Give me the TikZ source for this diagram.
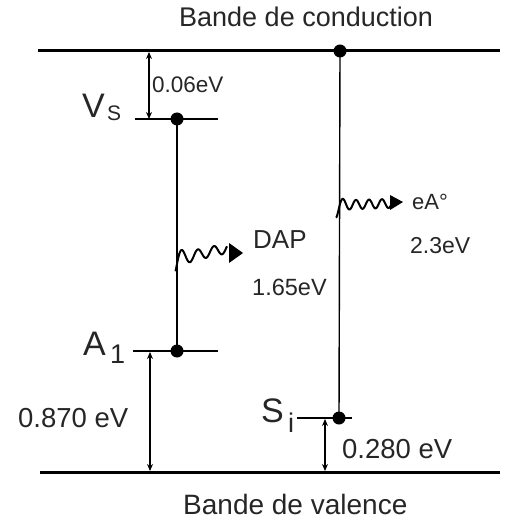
\documentclass[tikz,border=0pt]{standalone}
\usepackage{fontspec}
\setmainfont{Liberation Sans}
\usetikzlibrary{arrows.meta}
\newcommand{\fs}[1]{\fontsize{#1}{#1}\selectfont}
\begin{document}
\begin{tikzpicture}[x=1pt,y=-1pt,
  lbl/.style={inner sep=0pt,anchor=base west,text=black!85},
  band/.style={line width=3pt},
  level/.style={line width=1.4pt},
  dimarrow/.style={line width=1.1pt,{Stealth[length=7pt,width=6pt]}-{Stealth[length=7pt,width=6pt]}},
  dotc/.style={circle,fill=black,inner sep=0pt,minimum size=13pt},
  wave/.style={line width=2pt,line join=round}]
\useasboundingbox (0,0) rectangle (507,526);
% bands
\coordinate (cbL) at (38,51); \coordinate (cbR) at (500,51);
\coordinate (vbL) at (40,472); \coordinate (vbR) at (500,472);
\draw[band] (cbL) -- (cbR);
\draw[band] (vbL) -- (vbR);
\node[lbl,font=\fs{27}] (cbt) at (179,27) {Bande de conduction};
\node[lbl,font=\fs{28}] (vbt) at (183,514) {Bande de valence};
% levels
\coordinate (vsL) at (135,119); \coordinate (vsR) at (218,119);
\coordinate (a1L) at (133,351); \coordinate (a1R) at (218,351);
\coordinate (siL) at (297,418); \coordinate (siR) at (352,418);
\draw[level] (vsL) -- (vsR);
\draw[level] (a1L) -- (a1R);
\draw[level] (siL) -- (siR);
% dots
\node[dotc] (dvs) at (177,119) {};
\node[dotc] (da1) at (177,351) {};
\node[dotc] (dcb) at (340,51) {};
\node[dotc] (dsi) at (339,418) {};
% transitions
\draw[level] (dvs.center) -- (da1.center);
\draw[level] (dcb.center) -- (dsi.center);
% dimension arrows
\coordinate (d1t) at (149,52); \coordinate (d1b) at (149,119);
\coordinate (d2t) at (150,352); \coordinate (d2b) at (150,471);
\coordinate (d3t) at (325,419); \coordinate (d3b) at (325,471);
\draw[dimarrow] (d1t) -- (d1b);
\draw[dimarrow] (d2t) -- (d2b);
\draw[dimarrow] (d3t) -- (d3b);
% labels
\node[lbl,font=\fs{34}] (vs) at (82,118) {V};
\node[lbl,font=\fs{21}] (vss) at (107,121) {S};
\node[lbl,font=\fs{34}] (a1) at (83,355) {A};
\node[lbl,font=\fs{27}] (a1s) at (110,363) {1};
\node[lbl,font=\fs{34}] (si) at (261,422) {S};
\node[lbl,font=\fs{27}] (sis) at (288,432) {i};
\node[lbl,font=\fs{22.5}] (e006) at (152,93) {0.06eV};
\node[lbl,font=\fs{26}] (dap) at (253,248) {DAP};
\node[lbl,font=\fs{23.5}] (e165) at (252,295) {1.65eV};
\node[lbl,font=\fs{22}] (ea) at (412,210) {eA°};
\node[lbl,font=\fs{23}] (e23) at (410,253) {2.3eV};
\node[lbl,font=\fs{27.5}] (e870) at (18,427) {0.870 eV};
\node[lbl,font=\fs{27.5}] (e280) at (342,458) {0.280 eV};
% wavy photons
\coordinate (w1s) at (178,268);
\draw[wave] plot[domain=-2.5:49,samples=140] ({178+\x},{259-0.22*\x-(5+6*exp(-\x/6))*sin(22.5*\x)});
\coordinate (w1e) at (229,252);
\fill (229,243) -- (243,253) -- (229,263) -- cycle;
\coordinate (w2s) at (339,215);
\draw[wave] plot[domain=-3:52,samples=140] ({339+\x},{205-0.03*\x-(4.5+4*exp(-\x/4))*sin(27.69*\x-20.77)});
\coordinate (w2e) at (391,203);
\fill (390,195) -- (403,202) -- (390,210) -- cycle;
\end{tikzpicture}
\end{document}
